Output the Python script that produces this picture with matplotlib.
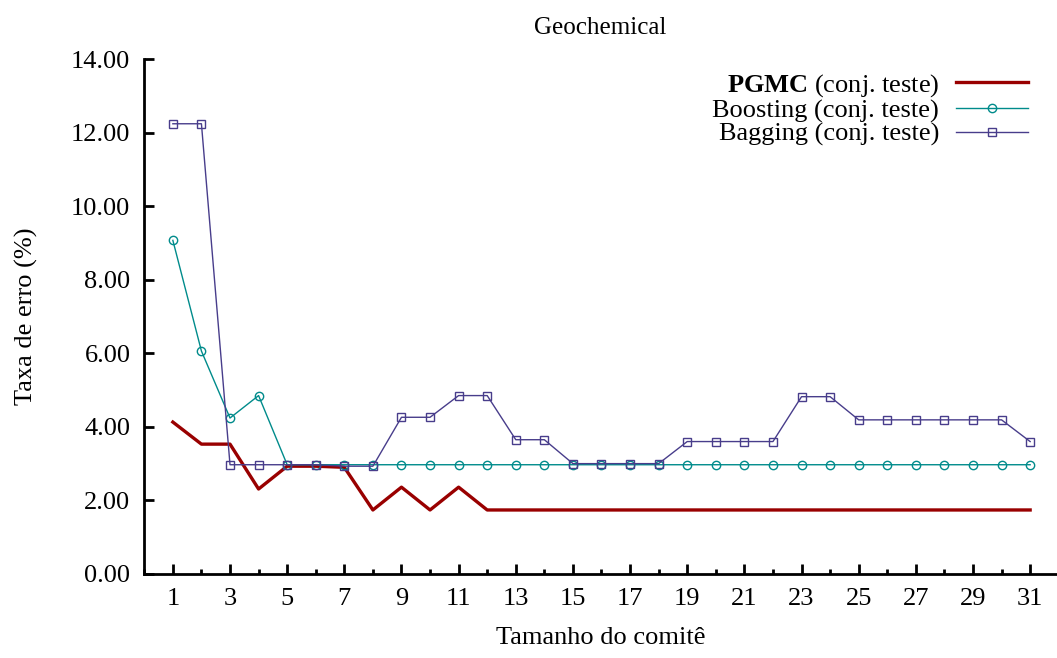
import numpy as np
import matplotlib
matplotlib.use("Agg")
import matplotlib.pyplot as plt
from matplotlib.ticker import MultipleLocator, FormatStrFormatter

plt.rcParams["font.family"] = ["Liberation Serif", "DejaVu Serif"]
plt.rcParams["mathtext.fontset"] = "custom"
plt.rcParams["mathtext.rm"] = "Liberation Serif"
plt.rcParams["mathtext.bf"] = "Liberation Serif:bold"

# committee size
sizes = list(range(1, 32))

# error rates (%)
pgmc = [4.13, 3.53, 3.53, 2.31, 2.93, 2.93, 2.90, 1.74, 2.36, 1.74, 2.36,
        1.74, 1.74, 1.74, 1.74, 1.74, 1.74, 1.74, 1.74, 1.74, 1.74, 1.74,
        1.74, 1.74, 1.74, 1.74, 1.74, 1.74, 1.74, 1.74, 1.74]
boosting = [9.07, 6.06, 4.24, 4.85, 2.97, 2.97, 2.97, 2.97, 2.97, 2.97, 2.97,
            2.97, 2.97, 2.97, 2.97, 2.97, 2.97, 2.97, 2.97, 2.97, 2.97, 2.97,
            2.97, 2.97, 2.97, 2.97, 2.97, 2.97, 2.97, 2.97, 2.97]
bagging = [12.24, 12.24, 2.97, 2.97, 2.97, 2.97, 2.93, 2.93, 4.26, 4.26, 4.85,
           4.85, 3.65, 3.65, 3.00, 3.00, 3.00, 3.00, 3.60, 3.60, 3.60, 3.60,
           4.82, 4.82, 4.19, 4.19, 4.19, 4.19, 4.19, 4.19, 3.60]

labels = [r"$\mathbf{PGMC}$ (conj. teste)",
          "Boosting (conj. teste)",
          "Bagging (conj. teste)"]

fig = plt.figure(figsize=(10.57, 6.58), dpi=100)
ax = fig.add_axes([0.1365, 0.1277, 0.8635, 0.7826])

ax.plot(sizes, pgmc, color="#990000", lw=2.4, label=labels[0], zorder=3)
ax.plot(sizes, boosting, color="#008b8b", lw=1.0, marker="o", ms=6,
        mfc="none", mew=1.0, label=labels[1], zorder=4)
ax.plot(sizes, bagging, color="#483d8b", lw=1.0, marker="s", ms=6.3,
        mfc="none", mew=1.0, label=labels[2], zorder=5)

ax.set_xlim(0, 31.94)
ax.set_ylim(0, 14)
ax.xaxis.set_major_locator(MultipleLocator(2, offset=1))
ax.xaxis.set_minor_locator(MultipleLocator(1))
ax.yaxis.set_major_locator(MultipleLocator(2))
ax.yaxis.set_major_formatter(FormatStrFormatter("%.2f"))

for s in ["top", "right"]:
    ax.spines[s].set_visible(False)
for s in ["left", "bottom"]:
    ax.spines[s].set_linewidth(2.0)

ax.tick_params(axis="both", which="major", direction="in", length=7, width=2.0,
               labelsize=19, pad=10)
ax.tick_params(axis="x", which="minor", direction="in", length=3.5, width=2.0)
ax.tick_params(axis="y", which="minor", left=False)

ax.set_xlabel("Tamanho do comitê", fontsize=19, labelpad=12)
ax.set_ylabel("Taxa de erro (%)", fontsize=19, labelpad=24)
ax.set_title("Geochemical", fontsize=18, pad=18)

ax.legend(loc="upper right", bbox_to_anchor=(0.988, 1.011), frameon=False,
          markerfirst=False, numpoints=1, fontsize=19, handlelength=2.7,
          handletextpad=0.65, labelspacing=0.0, borderpad=0.2)

fig.savefig("out.png", dpi=100)
